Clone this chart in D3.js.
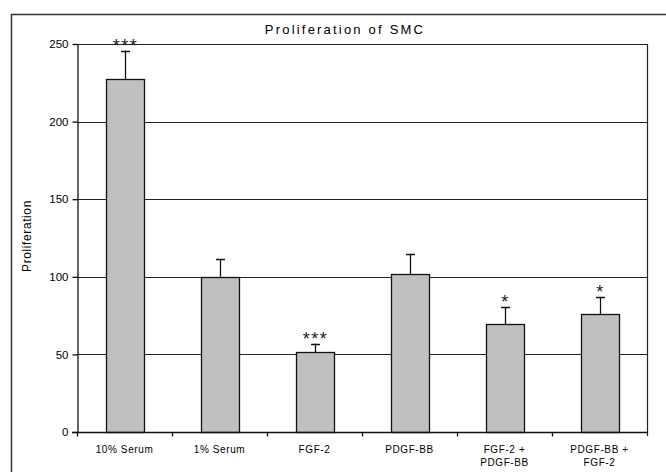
<!DOCTYPE html>
<html>
<head>
<meta charset="utf-8">
<script src="https://cdn.jsdelivr.net/npm/d3@7"></script>
<style>
  body { margin: 0; background: #fff; }
  svg { display: block; }
</style>
</head>
<body>
<div id="chart"></div>
<script>
// data
const categories = ["10% Serum", "1% Serum", "FGF-2", "PDGF-BB", "FGF-2 +|PDGF-BB", "PDGF-BB +|FGF-2"];
const values = [227.6, 100, 51.3, 101.8, 69.6, 76];
const errors = [18.1, 11.3, 5.6, 12.7, 10.7, 10.8];
const stars = ["***", "", "***", "", "*", "*"];
const yTicks = [0, 50, 100, 150, 200, 250];

const W = 666, H = 472;
const margin = { top: 44, right: 19, bottom: 40, left: 77 };

const svg = d3.select("#chart").append("svg")
  .attr("width", W)
  .attr("height", H);

// outer frame (cut off by the picture on right/bottom)
svg.append("rect")
  .attr("x", 11.5).attr("y", 14.5)
  .attr("width", 700).attr("height", 500)
  .attr("fill", "none")
  .attr("stroke", "#333")
  .attr("stroke-width", 1.5);

svg.append("text")
  .attr("x", 345).attr("y", 34)
  .attr("text-anchor", "middle")
  .attr("font-family", "Arial, 'Liberation Sans'")
  .attr("font-size", 13)
  .attr("letter-spacing", 2.2)
  .text("Proliferation of SMC");

const x = d3.scaleBand()
  .domain(categories)
  .range([margin.left, W - margin.right])
  .paddingInner(0)
  .paddingOuter(0);

const y = d3.scaleLinear()
  .domain([0, 250])
  .range([H - margin.bottom, margin.top]);

const g = svg.append("g");

// horizontal grid
g.selectAll("line.grid")
  .data(yTicks.filter(d => d > 0))
  .enter().append("line")
  .attr("class", "grid")
  .attr("x1", margin.left).attr("x2", W - margin.right)
  .attr("y1", d => Math.round(y(d)) + 0.5)
  .attr("y2", d => Math.round(y(d)) + 0.5)
  .attr("stroke", "#222")
  .attr("stroke-width", 1.2);

// right border of plot
g.append("line")
  .attr("x1", W - margin.right + 0.5).attr("x2", W - margin.right + 0.5)
  .attr("y1", y(250)).attr("y2", y(0) + 4)
  .attr("stroke", "#222").attr("stroke-width", 1.2);

const bw = 38;
const cx = d => x(d) + x.bandwidth() / 2;

// error bars
const err = g.selectAll("g.err")
  .data(categories)
  .enter().append("g");

err.append("line")
  .attr("x1", d => Math.round(cx(d)) + 0.5)
  .attr("x2", d => Math.round(cx(d)) + 0.5)
  .attr("y1", (d, i) => y(values[i]))
  .attr("y2", (d, i) => y(values[i] + errors[i]))
  .attr("stroke", "#111").attr("stroke-width", 1.3);

err.append("line")
  .attr("x1", d => Math.round(cx(d)) - 4)
  .attr("x2", d => Math.round(cx(d)) + 5)
  .attr("y1", (d, i) => Math.round(y(values[i] + errors[i])) + 0.5)
  .attr("y2", (d, i) => Math.round(y(values[i] + errors[i])) + 0.5)
  .attr("stroke", "#111").attr("stroke-width", 1.5);

// bars
g.selectAll("rect.bar")
  .data(categories)
  .enter().append("rect")
  .attr("class", "bar")
  .attr("x", d => Math.round(cx(d) - bw / 2) + 0.5)
  .attr("width", bw)
  .attr("y", (d, i) => Math.round(y(values[i])) + 0.5)
  .attr("height", (d, i) => y(0) - Math.round(y(values[i])))
  .attr("fill", "#c0c0c0")
  .attr("stroke", "#111")
  .attr("stroke-width", 1.3);

// significance stars
g.selectAll("text.star")
  .data(categories)
  .enter().append("text")
  .attr("x", d => cx(d) + 1)
  .attr("y", (d, i) => y(values[i] + errors[i]) + 1)
  .attr("text-anchor", "middle")
  .attr("font-family", "Arial, 'Liberation Sans'")
  .attr("font-size", 18)
  .attr("letter-spacing", 1.5)
  .attr("fill", "#222")
  .text((d, i) => stars[i]);

// y axis
const yAxis = svg.append("g")
  .attr("transform", "translate(" + (margin.left + 0.5) + ",0)")
  .call(d3.axisLeft(y).tickValues(yTicks).tickSize(5).tickSizeOuter(0).tickPadding(4));
yAxis.select(".domain").attr("stroke", "#111").attr("stroke-width", 1.3);
yAxis.selectAll(".tick line").attr("stroke", "#111").attr("stroke-width", 1.3);
yAxis.selectAll("text")
  .attr("font-family", "Arial, 'Liberation Sans'")
  .attr("font-size", 11.5)
  .attr("fill", "#000");

// x axis baseline with ticks at category boundaries
const xAxis = svg.append("g")
  .attr("transform", "translate(0," + (y(0) + 0.5) + ")");
xAxis.append("line")
  .attr("x1", margin.left - 5).attr("x2", W - margin.right)
  .attr("stroke", "#111").attr("stroke-width", 1.3);
xAxis.selectAll("line.tk")
  .data(categories)
  .enter().append("line")
  .attr("class", "tk")
  .attr("x1", d => Math.round(x(d)) + 0.5)
  .attr("x2", d => Math.round(x(d)) + 0.5)
  .attr("y1", 0).attr("y2", 4)
  .attr("stroke", "#111").attr("stroke-width", 1.3);

const lbl = xAxis.selectAll("text.cat")
  .data(categories)
  .enter().append("text")
  .attr("class", "cat")
  .attr("x", d => cx(d))
  .attr("y", 20)
  .attr("text-anchor", "middle")
  .attr("font-family", "Arial, 'Liberation Sans'")
  .attr("font-size", 10)
  .attr("letter-spacing", 0.6);
lbl.selectAll("tspan")
  .data(d => d.split("|"))
  .enter().append("tspan")
  .attr("x", function() { return this.parentNode.getAttribute("x"); })
  .attr("dy", (d, i) => i === 0 ? 0 : 13)
  .text(d => d);

// y label
svg.append("text")
  .attr("transform", "translate(31,236) rotate(-90)")
  .attr("text-anchor", "middle")
  .attr("font-family", "Arial, 'Liberation Sans'")
  .attr("font-size", 12)
  .attr("letter-spacing", 0.6)
  .text("Proliferation");
</script>
</body>
</html>
